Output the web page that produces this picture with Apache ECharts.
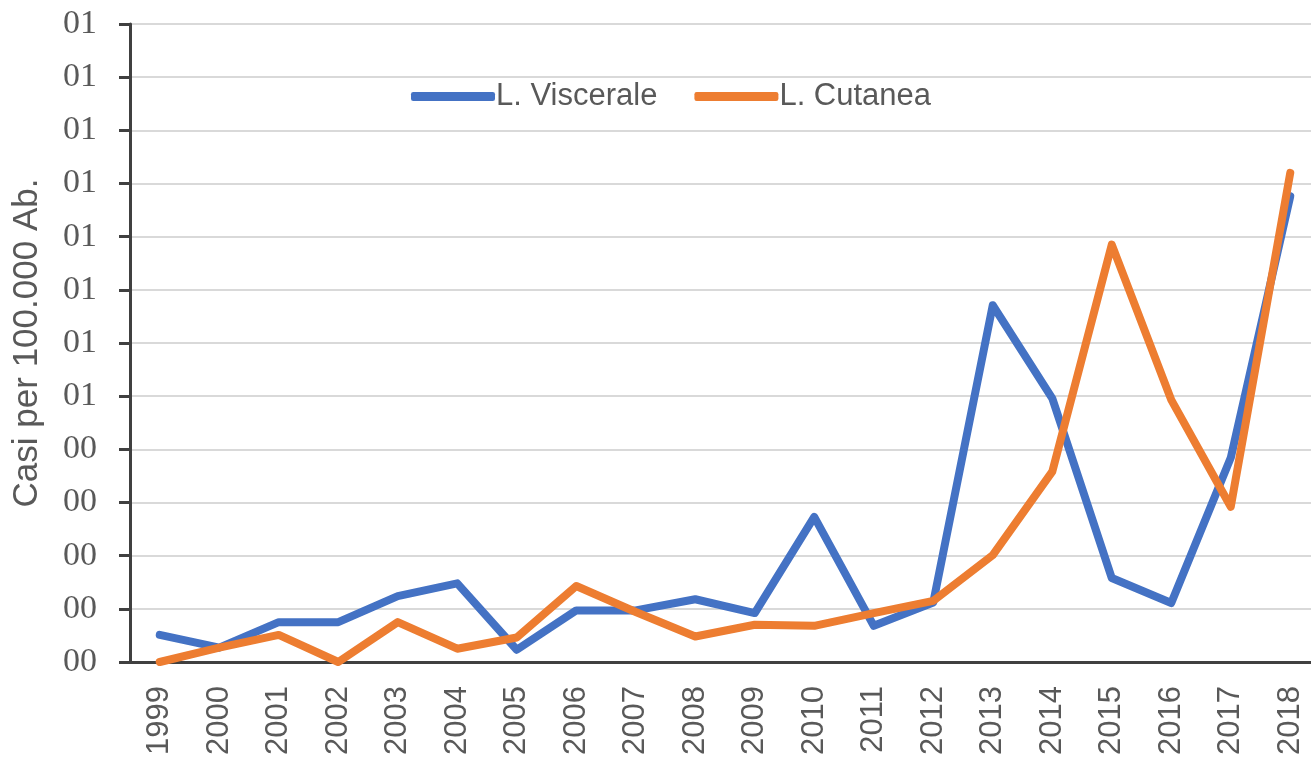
<!DOCTYPE html>
<html>
<head>
<meta charset="utf-8">
<script src="https://cdn.jsdelivr.net/npm/echarts@6/dist/echarts.min.js"></script>
<style>
html, body {
    margin: 0;
    padding: 0;
    width: 100%;
    height: 100%;
    background: #fff;
}
#chartContainer {
    width: 1311px;
    height: 757px;
}
</style>
</head>
<body>
<div id="chartContainer"></div>
<script>
// data (one unit = one gridline step)
var years = ['1999', '2000', '2001', '2002', '2003', '2004', '2005', '2006', '2007', '2008',
    '2009', '2010', '2011', '2012', '2013', '2014', '2015', '2016', '2017', '2018'];
var visceraleValues = [0.51, 0.27, 0.75, 0.75, 1.24, 1.48, 0.23, 0.97, 0.97, 1.18,
    0.92, 2.73, 0.68, 1.12, 6.71, 4.96, 1.58, 1.11, 3.84, 8.76];
var cutaneaValues = [0, 0.27, 0.51, 0, 0.75, 0.25, 0.46, 1.43, 0.94, 0.48,
    0.70, 0.68, 0.92, 1.15, 2.01, 3.58, 7.85, 4.93, 2.92, 9.20];
var yTickLabels = ['00', '00', '00', '00', '00', '01', '01', '01', '01', '01', '01', '01', '01'];
var seriesNames = ['L. Viscerale', 'L. Cutanea'];

var chartContainer = document.getElementById('chartContainer');
var chart = echarts.init(chartContainer, null, { renderer: 'canvas' });

var option = {
    animation: false,
    color: ['#4472C4', '#ED7D31'],
    grid: {
        left: 130,
        top: 24,
        width: 1190,
        bottom: 95,
        outerBoundsMode: 'none'
    },
    legend: {
        data: seriesNames,
        left: 406,
        top: 76,
        icon: 'roundRect',
        itemWidth: 84,
        itemHeight: 9,
        itemGap: 37,
        textStyle: {
            fontFamily: 'Liberation Sans',
            fontSize: 31,
            color: '#595959',
            padding: [0, 0, 0, -4]
        }
    },
    xAxis: {
        type: 'category',
        data: years,
        boundaryGap: true,
        axisLine: { lineStyle: { color: '#404040', width: 3 } },
        axisTick: { show: false },
        axisLabel: {
            rotate: 90,
            margin: 24,
            interval: 0,
            fontFamily: 'Liberation Sans',
            fontSize: 31,
            color: '#595959'
        }
    },
    yAxis: {
        type: 'value',
        min: 0,
        max: 12,
        interval: 1,
        name: 'Casi per 100.000 Ab.',
        nameLocation: 'middle',
        nameGap: 85,
        nameTextStyle: {
            fontFamily: 'Liberation Sans',
            fontSize: 35,
            color: '#595959'
        },
        axisLine: { show: true, lineStyle: { color: '#404040', width: 3 } },
        axisTick: { show: true, inside: false, length: 11, lineStyle: { color: '#404040', width: 3 } },
        splitLine: { lineStyle: { color: '#D9D9D9', width: 2 } },
        axisLabel: {
            margin: 33,
            fontFamily: 'Liberation Serif',
            fontSize: 34,
            color: '#595959',
            formatter: function (value) {
                return yTickLabels[Math.round(value)];
            }
        }
    },
    series: [
        {
            name: seriesNames[0],
            type: 'line',
            data: visceraleValues,
            showSymbol: false,
            symbol: 'none',
            lineStyle: { width: 8, cap: 'round', join: 'round' }
        },
        {
            name: seriesNames[1],
            type: 'line',
            data: cutaneaValues,
            showSymbol: false,
            symbol: 'none',
            lineStyle: { width: 8, cap: 'round', join: 'round' }
        }
    ]
};

chart.setOption(option);
window.addEventListener('resize', chart.resize);
</script>
</body>
</html>
